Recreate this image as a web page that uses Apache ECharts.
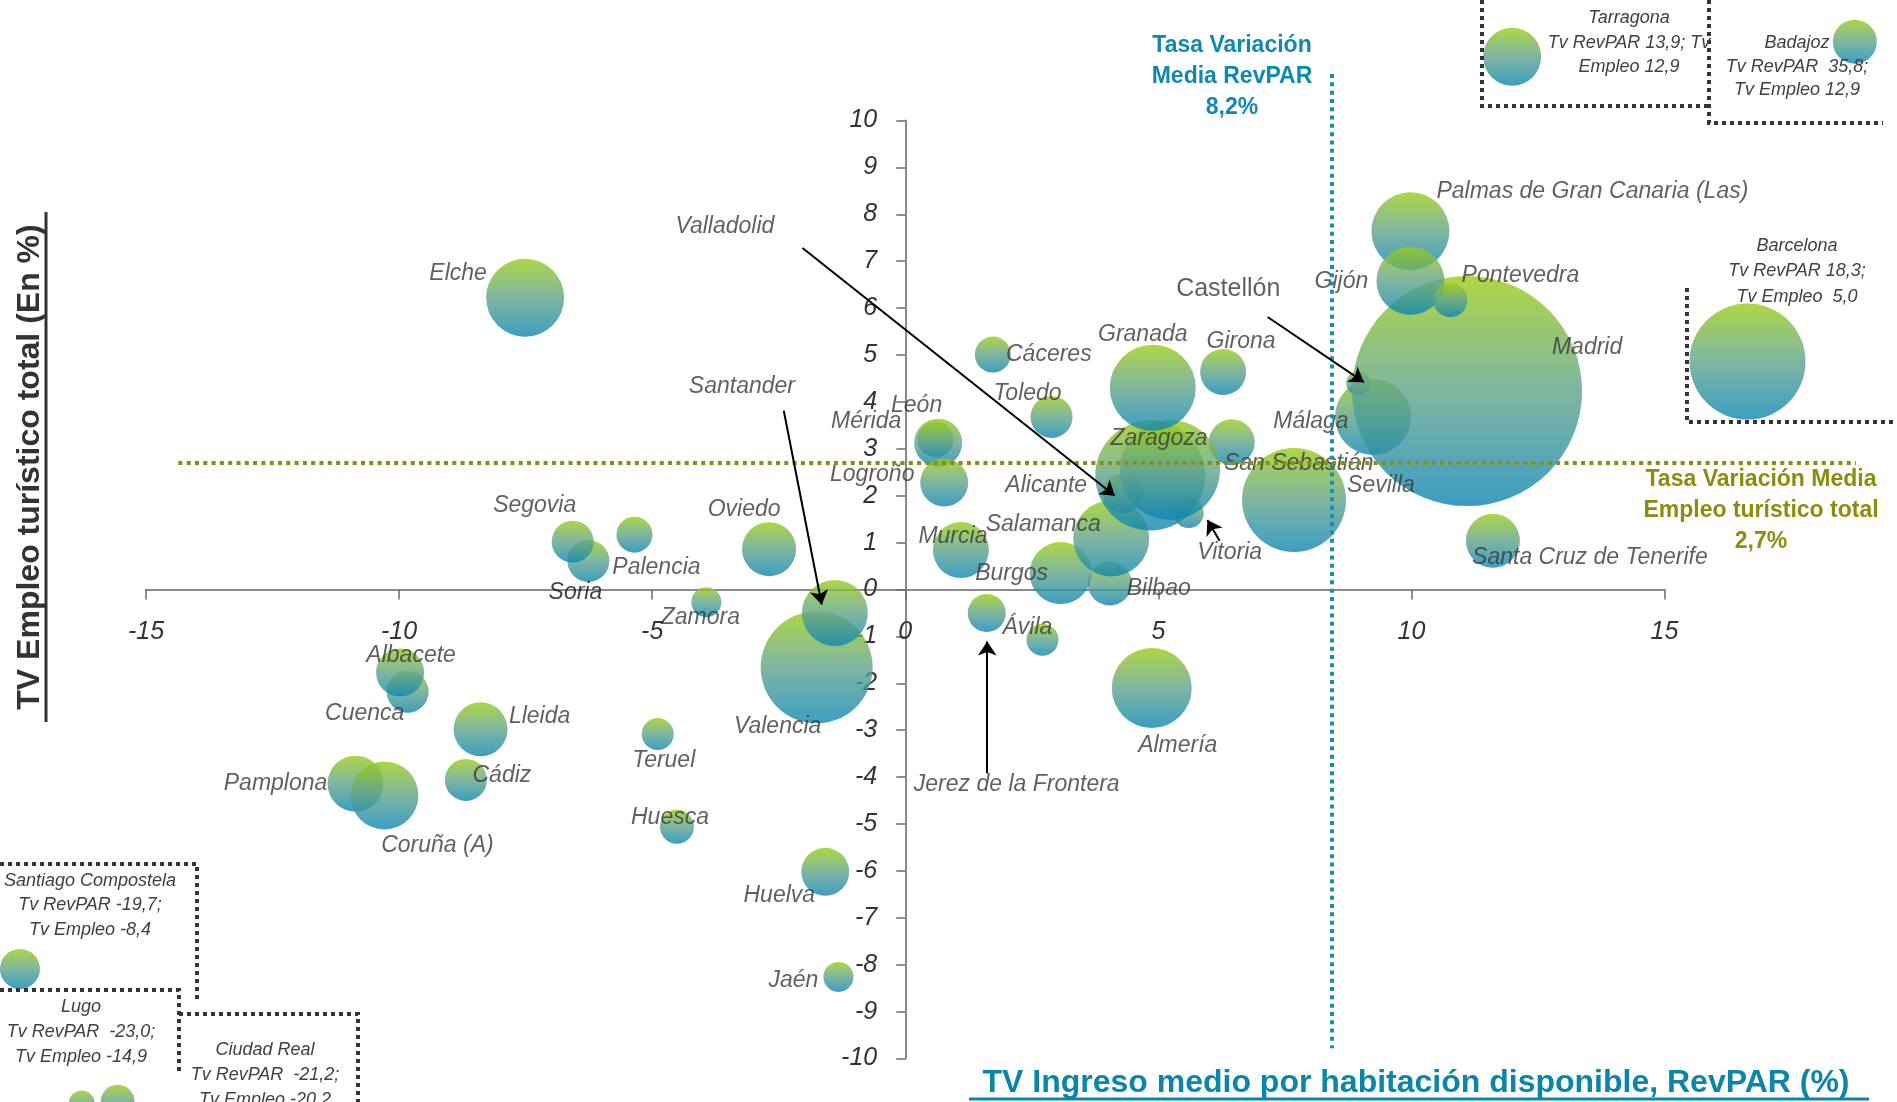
<!DOCTYPE html>
<html><head><meta charset="utf-8">
<script src="https://cdn.jsdelivr.net/npm/echarts@6/dist/echarts.min.js"></script>
<style>html,body{margin:0;padding:0;background:#fff}#c{width:1897px;height:1102px}</style>
</head><body><div id="c"></div>
<script>
// ---------- DATA ----------
const cities = ['León','Mérida','Logroño','Cáceres','Toledo','Murcia','Jerez de la Frontera','Ávila','Almería','Bilbao',
  'Burgos','Salamanca','Valladolid','Vitoria','Alicante','San Sebastián','Zaragoza','Granada','Girona','Sevilla',
  'Málaga','Castellón','Madrid','Palmas de Gran Canaria (Las)','Gijón','Pontevedra','Santa Cruz de Tenerife','Elche','Oviedo','Zamora',
  'Soria','Segovia','Palencia','Valencia','Santander','Huelva','Jaén','Cuenca','Albacete','Lleida',
  'Teruel','Cádiz','Pamplona','Coruña (A)','Huesca'];
const revpar = [0.60,0.65,0.77,1.73,2.89,1.10,1.61,2.71,4.87,4.04,
  3.07,4.07,4.30,5.60,4.84,6.45,5.23,4.89,6.28,7.68,
  9.24,8.95,11.10,9.98,9.98,10.77,11.61,-7.51,-2.69,-3.93,
  -6.26,-6.57,-5.35,-1.75,-1.39,-1.58,-1.32,-9.83,-9.98,-8.39,
  -4.89,-8.68,-10.86,-10.29,-4.51];
const empleo = [3.20,3.13,2.28,5.01,3.68,0.84,-0.50,-1.07,-2.10,0.13,
  0.35,1.09,2.05,1.63,2.43,3.14,2.55,4.30,4.64,1.91,
  3.68,4.40,4.23,7.64,6.58,6.17,1.04,6.22,0.86,-0.27,
  0.61,1.02,1.17,-1.66,-0.50,-6.02,-8.26,-2.18,-1.77,-2.98,
  -3.08,-4.06,-4.14,-4.39,-5.06];
const sizes = [36,48,48,36,42,56,38,32,80,44,
  62,76,40,30,110,46,100,86,46,104,
  76,24,230,78,68,34,54,78,54,30,
  42,42,36,112,66,48,30,42,48,54,
  32,42,56,68,34];

// outliers shown in boxes outside the scale
const outNames = ['Barcelona','Tarragona','Badajoz','Santiago Compostela','Lugo','Ciudad Real'];
const outRevpar = [18.3,13.9,35.8,-19.7,-23.0,-21.2];
const outEmpleo = [5.0,12.9,12.9,-8.4,-14.9,-20.2];
const outSizes = [116,58,44,40,26,34];

const xTicks = [-15,-10,-5,0,5,10,15];
const yTicks = [-10,-9,-8,-7,-6,-5,-4,-3,-2,-1,0,1,2,3,4,5,6,7,8,9,10];

const mediaRevparTxt = ['Tasa Variación','Media RevPAR','8,2%'];
const mediaEmpleoTxt = ['Tasa Variación Media','Empleo turístico total','2,7%'];

// ---------- LAYOUT / STYLE ----------
const FONT = '"Liberation Sans", Arial, Helvetica, sans-serif';
const GL = 146, GR = 232.5, GT = 120.5, GB = 43.5, W = 1897, H = 1102;
const labelOff = {
  'León':[-19,-34],'Mérida':[-72,-21],'Logroño':[-72,-8],'Cáceres':[56,0],'Toledo':[-24,-23],
  'Murcia':[-8,-13],'Jerez de la Frontera':[30,172],'Ávila':[-15,-12],'Almería':[26,58],'Bilbao':[49,5],
  'Burgos':[-49,1],'Salamanca':[-68,-14],'Valladolid':[-398,-267],'Vitoria':[41,40],'Alicante':[-104,10],
  'San Sebastián':[67,21],'Zaragoza':[-11,-31],'Granada':[-10,-53],'Girona':[18,-30],'Sevilla':[87,-14],
  'Málaga':[-62,5],'Castellón':[-130,-94],'Madrid':[120,-44],'Palmas de Gran Canaria (Las)':[182,-40],
  'Gijón':[-69,1],'Pontevedra':[70,-25],'Santa Cruz de Tenerife':[97,17],'Elche':[-67,-24],'Oviedo':[-25,-40],
  'Zamora':[-6,15],'Soria':[-13,32],'Segovia':[-38,-36],'Palencia':[22,33],'Valencia':[-39,59],
  'Santander':[-93,-226],'Huelva':[-46,24],'Jaén':[-45,4],'Cuenca':[-43,22],'Albacete':[11,-17],
  'Lleida':[59,-13],'Teruel':[6,27],'Cádiz':[36,-4],'Pamplona':[-80,0],'Coruña (A)':[53,50],'Huesca':[-7,-9]
};
// where the out-of-scale bubbles are drawn (axis units)
const outShownAt = {
  'Barcelona':[16.64,4.86],'Tarragona':[11.99,11.36],'Badajoz':[18.76,11.68],
  'Santiago Compostela':[-17.49,-8.09],'Lugo':[-16.27,-10.96],'Ciudad Real':[-15.56,-10.92]
};
const arrows = [
  [[-2.03,7.28],[4.14,2.0]],
  [[-2.40,3.81],[-1.65,-0.32]],
  [[7.16,5.81],[9.06,4.42]],
  [[1.62,-3.92],[1.62,-1.11]],
  [[6.21,1.04],[5.97,1.48]]
];
const refV = [[8.43,10.99],[8.43,-9.78]];
const refH = [[-14.36,2.71],[18.78,2.71]];

const fmt = v => v.toFixed(1).replace('.', ',');
const boxes = {
  'Tarragona':{cx:1629, ys:[18,43,67], lines:n=>['Tarragona','Tv RevPAR '+fmt(n.r)+'; Tv','Empleo '+fmt(n.e)]},
  'Badajoz':{cx:1797, ys:[43,67,90], lines:n=>[n.name,'Tv RevPAR  '+fmt(n.r)+';','Tv Empleo '+fmt(n.e)]},
  'Barcelona':{cx:1797, ys:[246,271,297], lines:n=>[n.name,'Tv RevPAR '+fmt(n.r)+';','Tv Empleo  '+fmt(n.e)]},
  'Santiago Compostela':{cx:90, ys:[881,905,930], lines:n=>[n.name,'Tv RevPAR '+fmt(n.r)+';','Tv Empleo '+fmt(n.e)]},
  'Lugo':{cx:81, ys:[1007,1032,1057], lines:n=>[n.name,'Tv RevPAR  '+fmt(n.r)+';','Tv Empleo '+fmt(n.e)]},
  'Ciudad Real':{cx:265, ys:[1050,1075,1100], lines:n=>[n.name,'Tv RevPAR  '+fmt(n.r)+';','Tv Empleo '+fmt(n.e)]}
};
const boxLines = [
  [[1482,0],[1482,106],[1709,106]],
  [[1709,0],[1709,123],[1883,123]],
  [[1687,288],[1687,422],[1895,422]],
  [[0,864],[197,864],[197,1001]],
  [[0,990],[179,990],[179,1075]],
  [[179,1014],[358,1014],[358,1102]]
];

// axes cross at zero: place each axis line at the other's zero via offset
const xMin = xTicks[0], xMax = xTicks[xTicks.length-1], yMin = yTicks[0], yMax = yTicks[yTicks.length-1];
const plotW = W - GL - GR, plotH = H - GT - GB;
const yAxisOffset = -(0 - xMin) / (xMax - xMin) * plotW;
const xAxisOffset = -(0 - yMin) / (yMax - yMin) * plotH;

const grad = () => new echarts.graphic.LinearGradient(0,0,0,1,[
  {offset:0,color:'#9ACC16'},{offset:0.5,color:'#5FA38A'},{offset:1,color:'#0B85B4'}]);

const mainData = cities.map((n,i)=>({
  name:n, value:[revpar[i],empleo[i],sizes[i]],
  label:{offset:labelOff[n]||[0,0],
    color: n==='Soria' ? '#111' : '#383838',
    fontStyle: n==='Castellón' ? 'normal' : 'italic',
    fontSize: n==='Castellón' ? 25 : 23}
}));
const outData = outNames.map((n,i)=>({name:n, value:[outShownAt[n][0],outShownAt[n][1],outSizes[i]]}));

const graphics = [];
boxLines.forEach(p=>graphics.push({type:'polyline',shape:{points:p},z:50,
  style:{stroke:'#333',lineWidth:4,lineDash:[4,4],fill:null}}));
outNames.forEach((n,i)=>{
  const b = boxes[n];
  const ls = b.lines({name:n,r:outRevpar[i],e:outEmpleo[i]});
  ls.forEach((t,k)=>graphics.push({type:'text',z:50,style:{text:t,x:b.cx,y:b.ys[k],
    font:'italic 18px '+FONT,fill:'#404040',align:'center',verticalAlign:'middle'}}));
});
mediaRevparTxt.forEach((t,k)=>graphics.push({type:'text',z:50,style:{text:t,x:1232,y:[46,77,108][k],
  font:'bold 23px '+FONT,fill:'#1189AF',align:'center',verticalAlign:'middle'}}));
mediaEmpleoTxt.forEach((t,k)=>graphics.push({type:'text',z:50,style:{text:t,x:1761,y:[480,511,542][k],
  font:'bold 23px '+FONT,fill:'#8C8C0E',align:'center',verticalAlign:'middle'}}));
// axis titles
graphics.push({type:'text',z:50,x:30,y:467,rotation:Math.PI/2,style:{text:'TV Empleo turístico total (En %)',x:0,y:0,
  font:'bold 32px '+FONT,fill:'#333',align:'center',verticalAlign:'middle'}});
graphics.push({type:'line',z:50,shape:{x1:46,y1:212,x2:46,y2:722},style:{stroke:'#333',lineWidth:3}});
graphics.push({type:'text',z:50,style:{text:'TV Ingreso medio por habitación disponible, RevPAR (%)',x:1416,y:1083,
  font:'bold 32px '+FONT,fill:'#0B86A8',align:'center',verticalAlign:'middle'}});
graphics.push({type:'line',z:50,shape:{x1:969,y1:1099,x2:1869,y2:1099},style:{stroke:'#0B86A8',lineWidth:3}});

const chart = echarts.init(document.getElementById('c'));
chart.setOption({
  animation:false,
  backgroundColor:'#fff',
  textStyle:{fontFamily:FONT},
  grid:{left:GL,right:GR,top:GT,bottom:GB,containLabel:false},
  xAxis:{type:'value',min:xMin,max:xMax,interval:5,position:'bottom',offset:xAxisOffset,
    axisLine:{show:true,onZero:false,lineStyle:{color:'#8a8a8a',width:2}},
    axisTick:{show:true,length:10,lineStyle:{color:'#6a6a6a',width:1.5}},
    axisLabel:{fontSize:25,fontStyle:'italic',color:'#333',margin:30,fontFamily:FONT},
    splitLine:{show:false}},
  yAxis:{type:'value',min:yMin,max:yMax,interval:1,position:'left',offset:yAxisOffset,
    axisLine:{show:true,onZero:false,lineStyle:{color:'#8a8a8a',width:2}},
    axisTick:{show:true,length:9,lineStyle:{color:'#6a6a6a',width:1.5}},
    axisLabel:{fontSize:25,fontStyle:'italic',color:'#333',margin:28,fontFamily:FONT},
    splitLine:{show:false}},
  series:[
    {type:'scatter',data:mainData,symbolSize:v=>v[2],z:2,
      itemStyle:{color:grad()},
      label:{show:true,position:'inside',formatter:'{b}',align:'center',verticalAlign:'middle',
        fontFamily:FONT,fontSize:23,fontStyle:'italic',color:'#383838'},
      emphasis:{disabled:true}},
    {type:'scatter',data:outData,symbolSize:v=>v[2],clip:false,z:2,
      itemStyle:{color:grad()},emphasis:{disabled:true}},
    {type:'lines',coordinateSystem:'cartesian2d',clip:false,z:5,symbol:'none',
      lineStyle:{color:'#1A8DB3',width:4,type:[4,4.3],opacity:1},
      data:[{coords:refV}]},
    {type:'lines',coordinateSystem:'cartesian2d',clip:false,z:5,symbol:'none',
      lineStyle:{color:'#8C8C0E',width:4,type:[4,4.3],opacity:1},
      data:[{coords:refH}]},
    {type:'lines',coordinateSystem:'cartesian2d',z:6,symbol:['none','arrow'],symbolSize:14,
      lineStyle:{color:'#000',width:2,opacity:1},
      data:arrows.map(a=>({coords:a}))}
  ],
  graphic:graphics
});
</script></body></html>
